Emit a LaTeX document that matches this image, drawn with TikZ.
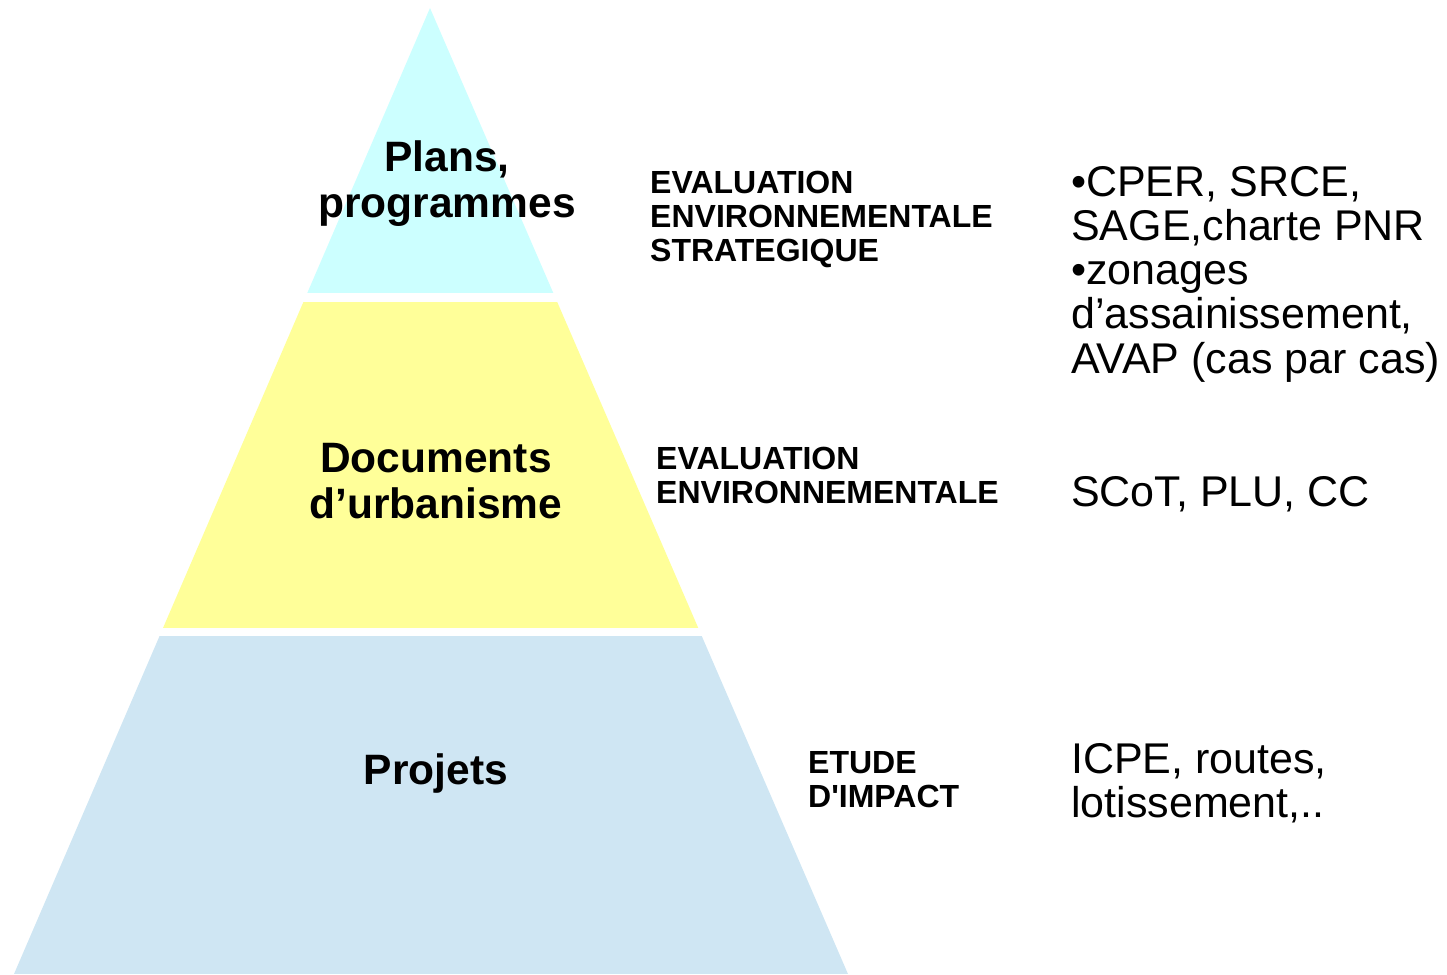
\documentclass[tikz,border=0pt]{standalone}
\usepackage{fontspec}
\setmainfont{Liberation Sans}[Ligatures=TeXOff]
\definecolor{topcyan}{HTML}{CCFFFF}
\definecolor{midyellow}{HTML}{FFFF99}
\definecolor{lowblue}{HTML}{CFE6F3}
\tikzset{
  level/.style={inner sep=0pt, anchor=base, font=\bfseries\fontsize{42.5}{46}\selectfont},
  method/.style={inner sep=0pt, anchor=base west, font=\bfseries\fontsize{32}{34}\selectfont},
  examples/.style={inner sep=0pt, anchor=base west, font=\fontsize{43}{44}\selectfont},
}
\begin{document}
\begin{tikzpicture}[x=1pt,y=-1pt]
\useasboundingbox (0,0) rectangle (1447,974);
% pyramid
\begin{scope}
  \clip (430,8) -- (14,974) -- (848,974) -- cycle;
  \fill[topcyan] (0,0) rectangle (1447,293);
  \fill[midyellow] (0,302) rectangle (1447,628);
  \fill[lowblue] (0,636) rectangle (1447,974);
\end{scope}
% level labels
\node[level] (plans) at (447,171) {\begin{tabular}[t]{@{}c@{}}Plans,\\programmes\end{tabular}};
\node[level] (docs) at (436,472) {\begin{tabular}[t]{@{}c@{}}Documents\\d’urbanisme\end{tabular}};
\node[level] (projets) at (436,784) {Projets};
% assessment types
\node[method] (ees) at (650,193) {\begin{tabular}[t]{@{}l@{}}EVALUATION\\ENVIRONNEMENTALE\\STRATEGIQUE\end{tabular}};
\node[method] (ee) at (656,469) {\begin{tabular}[t]{@{}l@{}}EVALUATION\\ENVIRONNEMENTALE\end{tabular}};
\node[method] (ei) at (808,773) {\begin{tabular}[t]{@{}l@{}}ETUDE\\D'IMPACT\end{tabular}};
% examples
\node[examples] (ex1) at (1071,196) {\begin{tabular}[t]{@{}l@{}}•CPER, SRCE,\\SAGE,charte PNR\\•zonages\\d’assainissement,\\AVAP (cas par cas)\end{tabular}};
\node[examples] (ex2) at (1071,506) {SCoT, PLU, CC};
\node[examples] (ex3) at (1071,773) {\begin{tabular}[t]{@{}l@{}}ICPE, routes,\\lotissement,..\end{tabular}};
\end{tikzpicture}
\end{document}
